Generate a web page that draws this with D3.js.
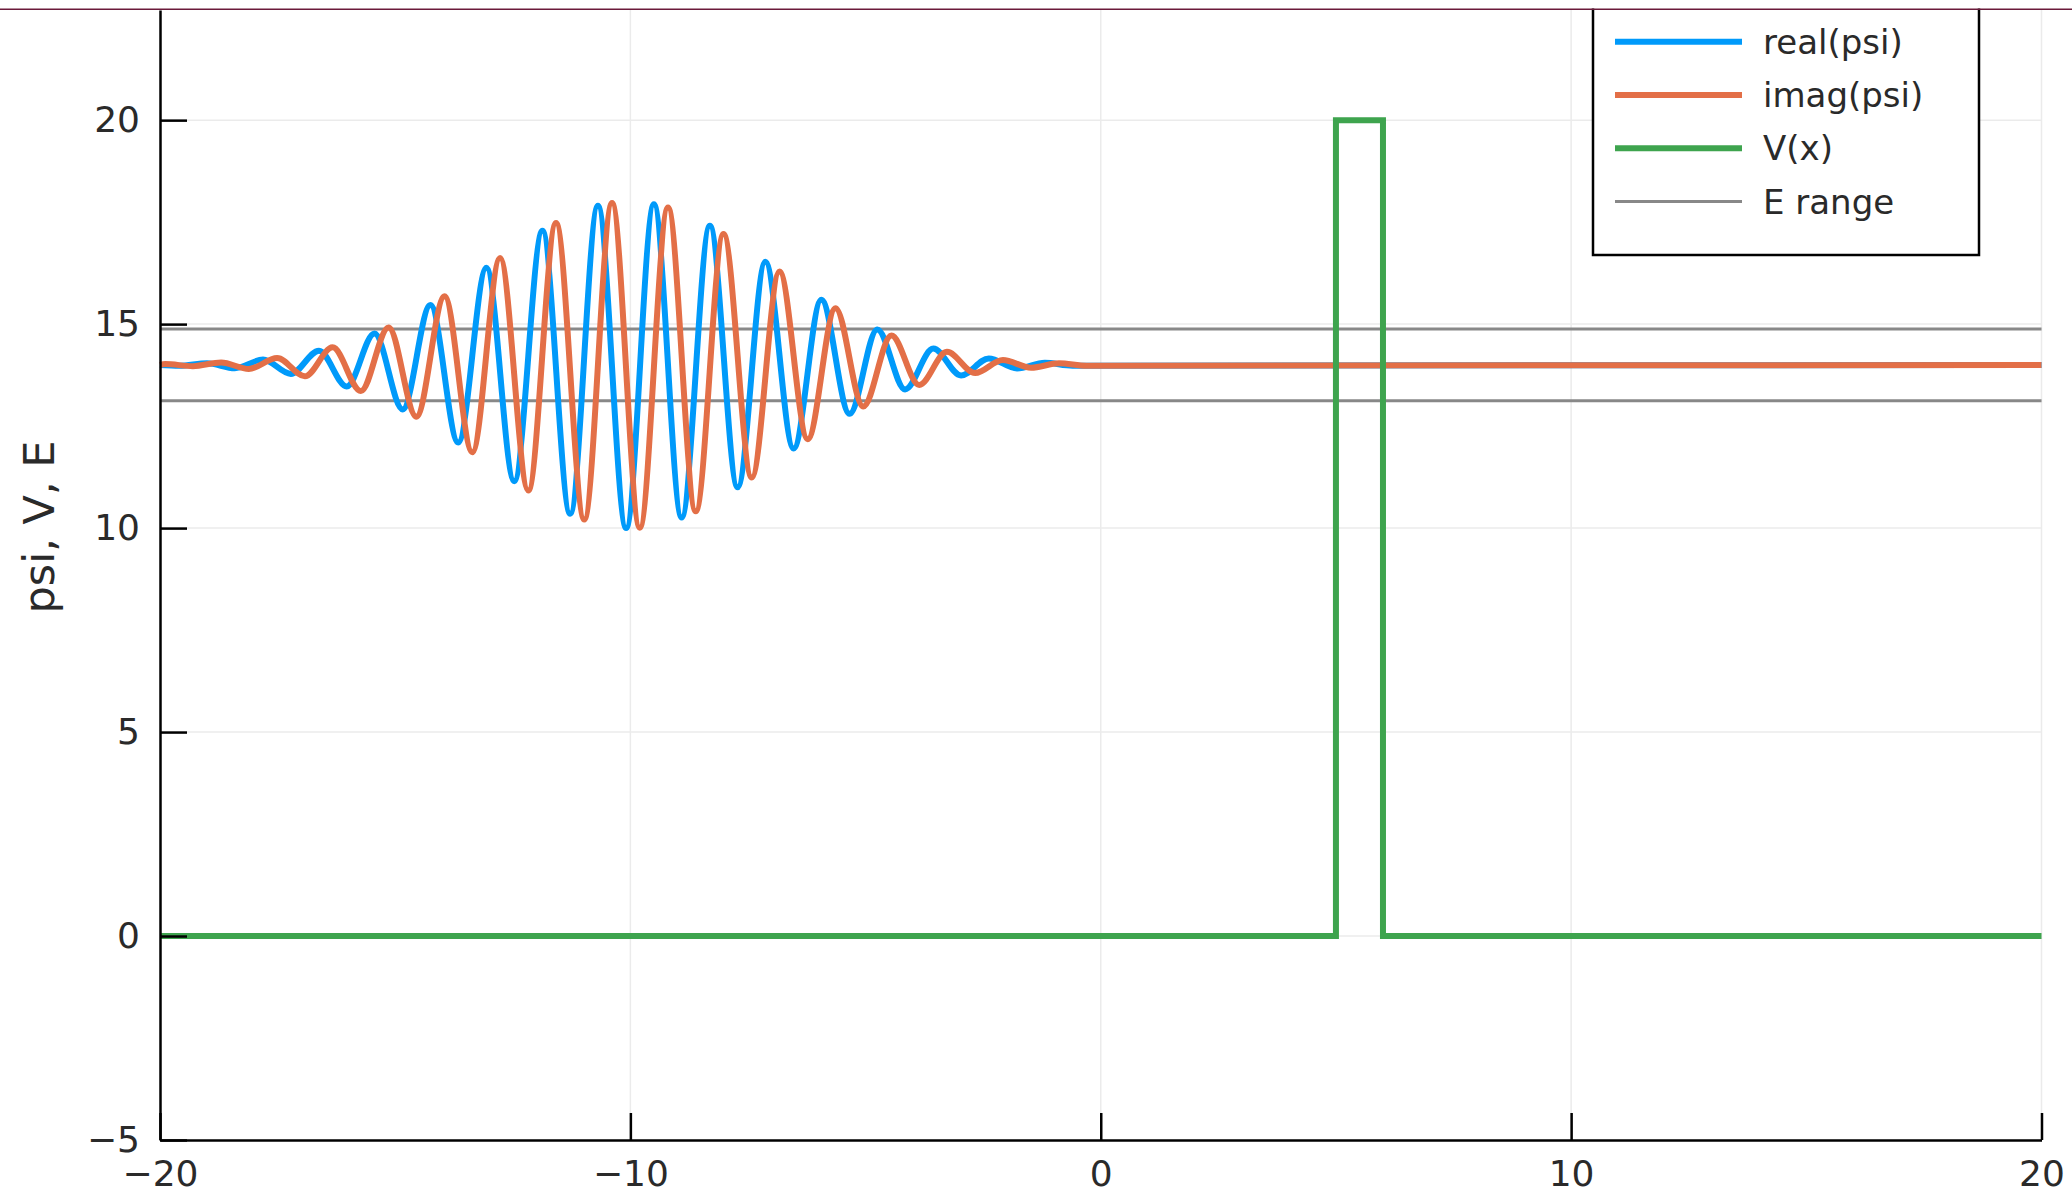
<!DOCTYPE html>
<html>
<head>
<meta charset="utf-8">
<script src="https://cdn.jsdelivr.net/npm/d3@7"></script>
<style>
  body { margin: 0; background: #fff; }
  svg { display: block; }
</style>
</head>
<body>
<div id="chart"></div>
<script>
// extrema of real(psi)
const realX = [-20, -19.59, -19.00, -18.41, -17.81, -17.22, -16.62, -16.03, -15.44, -14.84, -14.25,
  -13.66, -13.06, -12.47, -11.87, -11.28, -10.69, -10.09, -9.50, -8.91, -8.31, -7.72, -7.13,
  -6.53, -5.94, -5.34, -4.75, -4.16, -3.56, -2.97, -2.38, -1.78, -1.19, -0.6, 20]
const realY = [14.0, 13.98, 14.04, 13.92, 14.13, 13.78, 14.35, 13.47, 14.77, 12.91, 15.47,
  12.10, 16.38, 11.15, 17.29, 10.35, 17.90, 10.00, 17.94, 10.26, 17.41, 11.00, 16.53,
  11.95, 15.60, 12.80, 14.87, 13.40, 14.40, 13.74, 14.16, 13.91, 14.05, 13.98, 14.0]

// extrema of imag(psi)
const imagX = [-20, -19.89, -19.30, -18.70, -18.11, -17.51, -16.92, -16.33, -15.73, -15.14, -14.55,
  -13.95, -13.36, -12.77, -12.17, -11.58, -10.98, -10.39, -9.80, -9.20, -8.61, -8.02, -7.42,
  -6.83, -6.23, -5.64, -5.05, -4.45, -3.86, -3.27, -2.67, -2.08, -1.48, -0.89, -0.3, 20]
const imagY = [14.0, 14.02, 13.97, 14.06, 13.90, 14.17, 13.72, 14.43, 13.36, 14.92, 12.73,
  15.68, 11.86, 16.62, 10.92, 17.48, 10.21, 17.97, 10.01, 17.86, 10.41, 17.21, 11.24,
  16.29, 12.18, 15.39, 12.98, 14.72, 13.51, 14.32, 13.80, 14.12, 13.93, 14.04, 13.98, 14.0]

// potential barrier
const vX = [-20, 5, 5, 6, 6, 20]
const vY = [0, 0, 20, 20, 0, 0]

// energy range
const eRange = [14.88, 13.12]

const xTicks = [-20, -10, 0, 10, 20]
const yTicks = [-5, 0, 5, 10, 15, 20]
const seriesNames = ['real(psi)', 'imag(psi)', 'V(x)', 'E range']
const seriesColors = ['#009AFA', '#E36F47', '#3EA44E', '#888888']

const w = 2072
const h = 1196

const svg = d3.select('#chart')
  .append('svg')
  .attr('width', w)
  .attr('height', h)

const x = d3.scaleLinear().domain([-20, 20]).range([160, 2041.5])
const y = d3.scaleLinear().domain([-5, 22.7]).range([1140, 10])

// grid
svg.append('g')
  .selectAll('line')
  .data(xTicks.slice(1))
  .enter()
  .append('line')
  .attr('x1', d => x(d)).attr('x2', d => x(d))
  .attr('y1', y(-5)).attr('y2', y(22.7))
  .attr('stroke', '#ebebeb')
  .attr('stroke-width', 1.5)

svg.append('g')
  .selectAll('line')
  .data(yTicks.slice(1))
  .enter()
  .append('line')
  .attr('x1', x(-20)).attr('x2', x(20))
  .attr('y1', d => y(d)).attr('y2', d => y(d))
  .attr('stroke', '#ebebeb')
  .attr('stroke-width', 1.5)

// E range
svg.append('g')
  .selectAll('line')
  .data(eRange)
  .enter()
  .append('line')
  .attr('x1', x(-20)).attr('x2', x(20))
  .attr('y1', d => y(d)).attr('y2', d => y(d))
  .attr('stroke', seriesColors[3])
  .attr('stroke-width', 3)

const wave = d3.line()
  .x(d => x(d[0]))
  .y(d => y(d[1]))
  .curve(d3.curveMonotoneX)

svg.append('path')
  .attr('d', wave(d3.zip(realX, realY)))
  .attr('fill', 'none')
  .attr('stroke', seriesColors[0])
  .attr('stroke-width', 6)

svg.append('path')
  .attr('d', wave(d3.zip(imagX, imagY)))
  .attr('fill', 'none')
  .attr('stroke', seriesColors[1])
  .attr('stroke-width', 6)

const step = d3.line()
  .x(d => x(d[0]))
  .y(d => y(d[1]))

svg.append('path')
  .attr('d', step(d3.zip(vX, vY)))
  .attr('fill', 'none')
  .attr('stroke', seriesColors[2])
  .attr('stroke-width', 6)

// axes
const tickFont = '"DejaVu Sans", sans-serif'
const fmt = d => d3.format('d')(d).replace('-', '\u2212')

const xAxis = svg.append('g')
  .attr('transform', 'translate(0,' + y(-5) + ')')
  .call(d3.axisBottom(x).tickValues(xTicks).tickSizeInner(-27).tickSizeOuter(0).tickFormat(fmt))
xAxis.select('.domain').attr('stroke', '#000').attr('stroke-width', 2.5)
xAxis.selectAll('.tick line').attr('stroke', '#000').attr('stroke-width', 2.5)
xAxis.selectAll('.tick text')
  .attr('font-family', tickFont)
  .attr('font-size', 36)
  .attr('fill', '#2a2a2a')
  .attr('dy', '0.36em')
  .attr('y', 33)

const yAxis = svg.append('g')
  .attr('transform', 'translate(' + x(-20) + ',0)')
  .call(d3.axisLeft(y).tickValues(yTicks).tickSizeInner(-27).tickSizeOuter(0).tickPadding(20).tickFormat(fmt))
yAxis.select('.domain').attr('stroke', '#000').attr('stroke-width', 2.5)
yAxis.selectAll('.tick line').attr('stroke', '#000').attr('stroke-width', 2.5)
yAxis.selectAll('.tick text')
  .attr('font-family', tickFont)
  .attr('font-size', 36)
  .attr('fill', '#2a2a2a')

svg.append('text')
  .attr('transform', 'translate(54,527) rotate(-90)')
  .attr('text-anchor', 'middle')
  .attr('font-family', tickFont)
  .attr('font-size', 43)
  .attr('fill', '#2a2a2a')
  .text('psi, V, E')

// legend
const leg = svg.append('g')
leg.append('rect')
  .attr('x', 1593)
  .attr('y', -20)
  .attr('width', 386)
  .attr('height', 275)
  .attr('fill', '#fff')
  .attr('stroke', '#000')
  .attr('stroke-width', 2.5)

const item = leg.selectAll('g.item')
  .data(seriesNames)
  .enter()
  .append('g')
  .attr('class', 'item')
  .attr('transform', (d, i) => 'translate(0,' + (41.7 + i * 53.3) + ')')

item.append('line')
  .attr('x1', 1615).attr('x2', 1742)
  .attr('stroke', (d, i) => seriesColors[i])
  .attr('stroke-width', (d, i) => i == 3 ? 3 : 6)

item.append('text')
  .attr('x', 1763)
  .attr('dy', '0.35em')
  .attr('font-family', '"DejaVu Sans", sans-serif')
  .attr('font-size', 34)
  .attr('fill', '#2a2a2a')
  .text(d => d)

// cropped top edge
svg.append('rect')
  .attr('x', 0).attr('y', 0)
  .attr('width', w).attr('height', 8.5)
  .attr('fill', '#fff')
svg.append('line')
  .attr('x1', 0).attr('x2', w)
  .attr('y1', 9.3).attr('y2', 9.3)
  .attr('stroke', '#6b1a3a')
  .attr('stroke-width', 1.5)
</script>
</body>
</html>
